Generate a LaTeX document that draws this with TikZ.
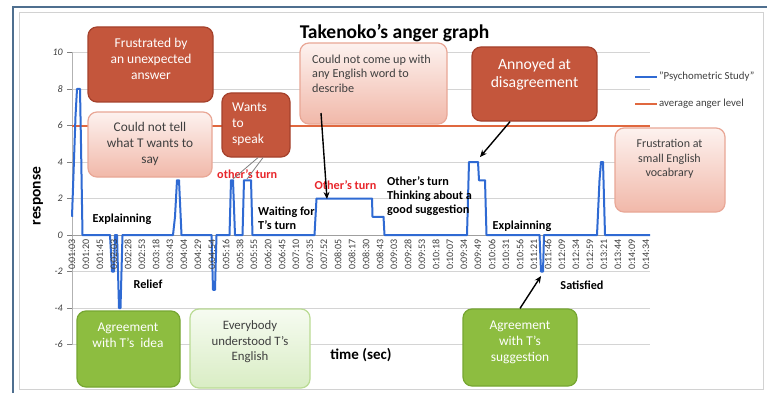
\documentclass[tikz,border=0pt]{standalone}
\usepackage{fontspec}
\setmainfont{Carlito}
\usetikzlibrary{arrows.meta,calc,shadings}
\definecolor{boxred}{HTML}{C4563C}
\definecolor{boxredline}{HTML}{A5412C}
\definecolor{pinkline}{HTML}{E9A796}
\definecolor{pinktop}{HTML}{FDF2EF}
\definecolor{pinkbot}{HTML}{F1B8A9}
\definecolor{gfill}{HTML}{8DBD40}
\definecolor{gline}{HTML}{76A631}
\definecolor{lgline}{HTML}{BADB94}
\definecolor{lgtop}{HTML}{F6FBF1}
\definecolor{lgbot}{HTML}{D9EDC4}
\definecolor{dblue}{HTML}{2F6AD3}
\definecolor{avgred}{HTML}{E0683F}
\definecolor{turnred}{HTML}{E8262B}
\definecolor{frameblue}{HTML}{4F6F8F}
\definecolor{gridgray}{HTML}{D4D4D4}
\definecolor{txtgray}{HTML}{3F3F3F}
\begin{document}
\begin{tikzpicture}[x=1pt,y=-1pt,
  boxbase/.style={rounded corners=9pt, line width=1.2pt, inner sep=0pt},
  darkbox/.style={boxbase, draw=boxredline, fill=boxred},
  pinkbox/.style={boxbase, draw=pinkline, top color=pinktop, bottom color=pinkbot},
  greenbox/.style={boxbase, draw=gline, fill=gfill},
  lgreenbox/.style={boxbase, draw=lgline, top color=lgtop, bottom color=lgbot},
  wtxt/.style={text=white, align=center, inner sep=0pt},
  gtxt/.style={text=txtgray, align=center, inner sep=0pt},
  btxt/.style={text=black, font=\bfseries\fontsize{12.2}{14}\selectfont, inner sep=0pt},
  rtxt/.style={text=turnred, font=\bfseries\fontsize{12.2}{14}\selectfont, inner sep=0pt},
  arr/.style={draw=black, line width=1.4pt, -{Stealth[length=7pt,width=6pt]}},
  thinline/.style={draw=gray, line width=0.8pt},
  ticklab/.style={text=txtgray, font=\fontsize{10}{12}\selectfont, inner sep=0pt},
  ]
\useasboundingbox (0,0) rectangle (767,393);
\fill[white] (0,0) rectangle (767,393);
% frames
\draw[frameblue, line width=1.2pt] (13,393) -- (13,7) -- (767,7);
\draw[gray!35, line width=0.8pt] (19,12) rectangle (763,389);
% plot area
\begin{scope}[shift={(0,235)}, y=18.25pt]
  \foreach \v in {-6,-4,...,10} {
    \draw[gridgray, line width=0.8pt] (72,\v) -- (650,\v);
    \draw[gray, line width=0.6pt] (67,\v) -- (72,\v);
    \node[ticklab, font=\itshape\fontsize{10}{12}\selectfont, anchor=east] (yt\v) at (63,\v) {\v};
  }
  \draw[gray!60, line width=0.6pt] (72,-6) -- (72,10);
  \draw[gray!75, line width=1pt] (72,0) -- (650,0);
  \draw[avgred, line width=2pt] (72,6) -- (650,6);
  \draw[dblue, line width=2pt, line join=round]
    (72,1) -- (75.5,6.5) -- (77,8) -- (80,8) -- (81,5) -- (82.5,0) -- (110,0)
    -- (112,-2) -- (114,-2) -- (115,0) -- (117,0) -- (119,-4) -- (120.5,-4) -- (122.5,0)
    -- (173,0) -- (175,1) -- (177,3) -- (179,3) -- (181.5,0)
    -- (211.5,0) -- (213,-3) -- (215,-3) -- (216.5,0)
    -- (229.5,0) -- (231,3) -- (233,3) -- (235,0) -- (242.5,0) -- (244,3) -- (251,3) -- (252.5,0)
    -- (314.5,0) -- (316.5,2) -- (372,2) -- (372.5,1) -- (383.5,1) -- (384.5,0)
    -- (467,0) -- (469,4) -- (478,4) -- (479,3) -- (485,3) -- (486.5,0)
    -- (539.5,0) -- (541,-2) -- (543,-2) -- (544,0)
    -- (597,0) -- (599.5,3) -- (601,4) -- (603,4) -- (605,0) -- (650,0);
\end{scope}
% x tick labels
\foreach \t [count=\i from 0] in {0:01:03,0:01:20,0:01:45,0:02:03,0:02:28,0:02:53,0:03:18,0:03:43,0:04:04,0:04:29,0:04:54,0:05:16,0:05:38,0:05:55,0:06:20,0:06:45,0:07:10,0:07:35,0:07:52,0:08:05,0:08:17,0:08:30,0:08:43,0:09:03,0:09:28,0:09:53,0:10:18,0:10:07,0:09:34,0:09:49,0:10:06,0:10:31,0:10:56,0:11:21,0:11:46,0:12:09,0:12:34,0:12:59,0:13:21,0:13:44,0:14:09,0:14:34} {
  \node[ticklab, rotate=90, anchor=east] (xt\i) at ({72+14*\i},239) {\t};
}
% title and axis labels
\node[font=\bfseries\fontsize{19.5}{22}\selectfont, inner sep=0pt] (title) at (394.5,33) {Takenoko's anger graph};
\node[font=\bfseries\fontsize{15}{18}\selectfont, inner sep=0pt] (xlab) at (361,355) {time (sec)};
\node[font=\bfseries\fontsize{15.5}{18}\selectfont, rotate=90, inner sep=0pt] (ylab) at (38,196) {response};
% legend
\coordinate (lb1) at (635,77); \coordinate (lb2) at (657,77);
\coordinate (lr1) at (635,104); \coordinate (lr2) at (657,104);
\draw[dblue, line width=2.5pt] (lb1) -- (lb2);
\draw[avgred, line width=2.5pt] (lr1) -- (lr2);
\node[anchor=west, text=txtgray, font=\fontsize{10.8}{12}\selectfont, inner sep=0pt] (leg1) at (659,77) {"Psychometric Study"};
\node[anchor=west, text=txtgray, font=\fontsize{10.8}{12}\selectfont, inner sep=0pt] (leg2) at (659,104) {average anger level};
% plain labels
\node[btxt] (expl1) at (122,219) {Explainning};
\node[btxt] (relief) at (148,284) {Relief};
\node[btxt, align=left, anchor=west] (wait) at (258,218) {Waiting for\\T's turn};
\node[rtxt, anchor=west] (oturn1) at (217,174) {other's turn};
\node[rtxt] (oturn2) at (345.5,185) {Other's turn};
\node[btxt, align=left, anchor=west] (think) at (387,196) {Other's turn\\Thinking about a\\good suggestion};
\node[btxt] (expl2) at (522,226) {Explainning};
\node[btxt] (satis) at (582,285) {Satisfied};
% boxes
\node[darkbox, minimum width=125pt, minimum height=75pt] (fbox) at (150.5,64.5) {};
\node[wtxt, font=\fontsize{13.5}{16}\selectfont] (ftext) at (151,59) {Frustrated by\\an unexpected\\answer};
\node[pinkbox, minimum width=124pt, minimum height=65pt] (cbox) at (150,144.5) {};
\node[gtxt, font=\fontsize{13.3}{16}\selectfont] (ctext) at (150,144) {Could not tell\\what T wants to\\say};
\node[darkbox, minimum width=68pt, minimum height=64pt] (wbox) at (256,125) {};
\node[wtxt, align=left, anchor=west, font=\fontsize{13.5}{16}\selectfont] (wtext) at (232,124) {Wants\\to\\speak};
\node[pinkbox, minimum width=147pt, minimum height=81pt] (ebox) at (373.5,83.5) {};
\node[gtxt, align=left, anchor=west, font=\fontsize{12.2}{14.5}\selectfont] (etext) at (312,73.5) {Could not come up with\\any English word to\\describe};
\node[darkbox, minimum width=125pt, minimum height=74pt] (abox) at (534.5,84) {};
\node[wtxt, font=\fontsize{15.7}{18}\selectfont] (atext) at (534.5,74) {Annoyed at\\disagreement};
\node[pinkbox, minimum width=110pt, minimum height=84pt] (vbox) at (670,170) {};
\node[gtxt, font=\fontsize{12}{14.5}\selectfont] (vtext) at (669.5,159) {Frustration at\\small English\\vocabrary};
\node[greenbox, minimum width=103pt, minimum height=76pt] (gidea) at (128.5,349) {};
\node[wtxt, font=\fontsize{13.4}{16}\selectfont] (gideatext) at (128,335) {Agreement\\with T's~ idea};
\node[lgreenbox, minimum width=120pt, minimum height=79pt] (gund) at (250,348.5) {};
\node[gtxt, font=\fontsize{12.8}{15.5}\selectfont] (gundtext) at (250,342) {Everybody\\understood T's\\English};
\node[greenbox, minimum width=114pt, minimum height=77pt] (gsug) at (520,347.5) {};
\node[wtxt, font=\fontsize{13.4}{16}\selectfont] (gsugtext) at (520,342) {Agreement\\with T's\\suggestion};
% connectors
\coordinate (g1e) at (233,179);
\coordinate (g2e) at (247,179);
\draw[thinline] ($(wbox.south)+(2,0)$) -- (g1e);
\draw[thinline] ($(wbox.south)+(7,0)$) -- (g2e);
\coordinate (a1s) at (321,113);
\coordinate (a1e) at (327,199);
\draw[arr] (a1s) -- (a1e);
\coordinate (a2e) at (480,157);
\draw[arr] (abox.-123) -- (a2e);
\coordinate (a4e) at (541,276);
\draw[arr] (gsug.north) -- (a4e);
\end{tikzpicture}
\end{document}
